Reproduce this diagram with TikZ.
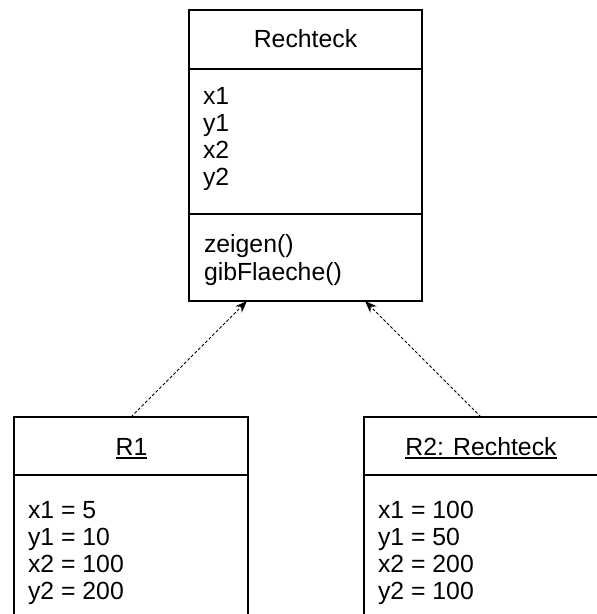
\documentclass[tikz,border=0pt]{standalone}
\usepackage{fontspec}
\setmainfont{Liberation Sans}
\usetikzlibrary{arrows.meta}
\begin{document}
\begin{tikzpicture}[x=1pt,y=-1pt,
  classbox/.style={draw=black,line width=1.3pt,rectangle,inner sep=0pt,outer sep=0pt,anchor=north west},
  sepline/.style={draw=black,line width=1.3pt},
  label/.style={inner sep=0pt,outer sep=0pt,font=\fontsize{24.8}{27}\selectfont},
  entry/.style={label,anchor=base west},
  heading/.style={label,anchor=base},
  underlined/.style={line width=1.2pt},
  realizes/.style={draw=black,line width=0.8pt,dash pattern=on 3pt off 2pt,
    -{Stealth[length=12pt,width=9pt]}}]
\useasboundingbox (0,0) rectangle (597,614);
\clip (0,0) rectangle (597,614);

% class Rechteck
\node[classbox,minimum width=233pt,minimum height=291pt] (rechteck) at (189,10) {};
\draw[sepline] (189,69) -- (422,69);
\draw[sepline] (189,214) -- (422,214);
\node[heading] (rtitle) at (305.5,47) {Rechteck};
\node[entry] (ra1) at (203,104) {x1};
\node[entry] (ra2) at (203,131) {y1};
\node[entry] (ra3) at (203,158) {x2};
\node[entry] (ra4) at (203,185) {y2};
\node[entry] (rm1) at (204,252) {zeigen()};
\node[entry] (rm2) at (204,280) {gibFlaeche()};

% object R1
\node[classbox,minimum width=234pt,minimum height=220pt] (r1) at (14,417) {};
\draw[sepline] (14,475) -- (248,475);
\node[heading] (r1title) at (131.5,455) {R1};
\draw[underlined] ([yshift=-3pt]r1title.base west) -- ([yshift=-3pt]r1title.base east);
\node[entry] (r1a1) at (28,518) {x1 = 5};
\node[entry] (r1a2) at (28,545) {y1 = 10};
\node[entry] (r1a3) at (28,572) {x2 = 100};
\node[entry] (r1a4) at (28,599) {y2 = 200};

% object R2
\node[classbox,minimum width=234pt,minimum height=220pt] (r2) at (364,417) {};
\draw[sepline] (364,475) -- (598,475);
\node[heading] (r2title) at (481,455) {R2: Rechteck};
\draw[underlined] ([yshift=-3pt]r2title.base west) -- ([yshift=-3pt]r2title.base east);
\node[entry] (r2a1) at (378,518) {x1 = 100};
\node[entry] (r2a2) at (378,545) {y1 = 50};
\node[entry] (r2a3) at (378,572) {x2 = 200};
\node[entry] (r2a4) at (378,599) {y2 = 100};

% instance-of connectors
\coordinate (tipL) at (247,301);
\coordinate (tipR) at (365,301);
\draw[realizes] (r1.north) -- (tipL);
\draw[realizes] (r2.north) -- (tipR);
\end{tikzpicture}
\end{document}
